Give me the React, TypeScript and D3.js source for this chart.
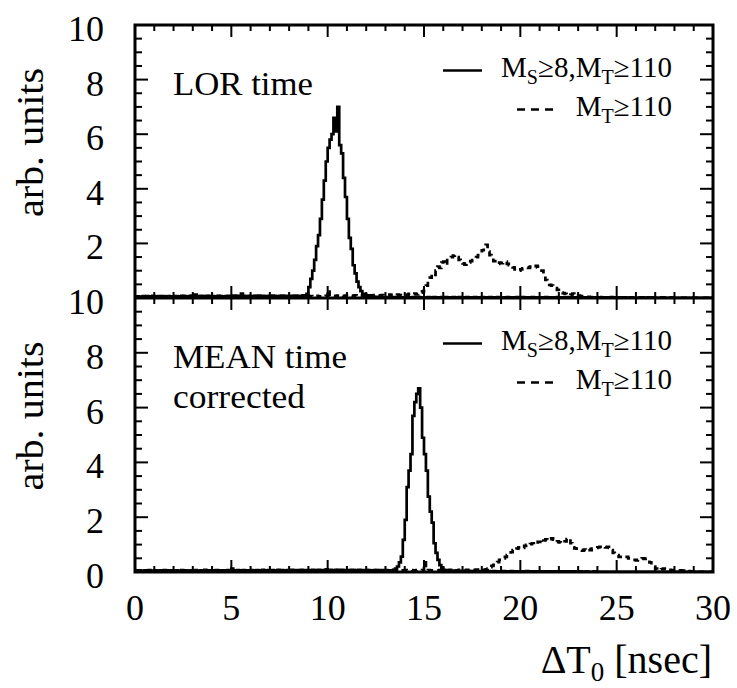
import React from "react";
import * as d3 from "d3";

// ---- data: histograms, 0.1 ns bins from 0 to 30 ns ----
const binWidth = 0.1;
const xDomain = [0, 30];
const yDomain = [0, 10];
const xMajorTicks = [0, 5, 10, 15, 20, 25, 30];
const yMajorTicksTop = [2, 4, 6, 8, 10];
const yMajorTicksBottom = [0, 2, 4, 6, 8, 10];

const lorSolid = [
  0.05,0.06,0.04,0.05,0.07,0.05,0.04,0.06,0.05,0.08,
  0.06,0.05,0.07,0.04,0.05,0.06,0.05,0.07,0.06,0.05,
  0.06,0.07,0.05,0.06,0.08,0.07,0.06,0.05,0.07,0.09,
  0.08,0.12,0.07,0.06,0.08,0.07,0.06,0.08,0.07,0.06,
  0.07,0.05,0.06,0.08,0.07,0.06,0.05,0.07,0.08,0.06,
  0.07,0.09,0.08,0.06,0.07,0.16,0.08,0.07,0.06,0.08,
  0.07,0.06,0.08,0.07,0.09,0.06,0.08,0.07,0.06,0.08,
  0.07,0.09,0.08,0.07,0.06,0.08,0.09,0.07,0.08,0.06,
  0.07,0.08,0.06,0.09,0.08,0.07,0.08,0.1,0.09,0.15,
  0.4,0.7,1.0,1.4,1.9,2.3,2.9,3.6,4.3,5.0,
  5.5,5.8,6.0,6.6,6.1,7.0,5.6,5.3,4.4,3.7,
  2.9,2.2,1.8,1.2,0.9,0.6,0.4,0.25,0.15,0.12,
  0.1,0.08,0.06,0.05,0.04,0.04,0.03,0.04,0.03,0.03,
  0.03,0.02,0.03,0.03,0.02,0.03,0.02,0.03,0.02,0.02,
  0.02,0.03,0.02,0.02,0.03,0.02,0.02,0.03,0.02,0.02,
  0.02,0.02,0.03,0.02,0.02,0.03,0.02,0.02,0.02,0.03,
  0.02,0.03,0.02,0.02,0.02,0.03,0.02,0.02,0.03,0.02,
  0.02,0.02,0.03,0.02,0.02,0.02,0.03,0.02,0.02,0.02,
  0.03,0.02,0.02,0.02,0.03,0.02,0.02,0.02,0.03,0.02,
  0.02,0.02,0.02,0.03,0.02,0.02,0.02,0.02,0.03,0.02,
  0.02,0.03,0.02,0.02,0.02,0.02,0.03,0.02,0.02,0.02,
  0.02,0.02,0.02,0.03,0.02,0.02,0.02,0.02,0.02,0.03,
  0.02,0.02,0.02,0.02,0.02,0.03,0.02,0.02,0.02,0.02,
  0.02,0.02,0.02,0.02,0.02,0.02,0.02,0.02,0.02,0.02,
  0.01,0.02,0.01,0.02,0.01,0.02,0.01,0.02,0.01,0.02,
  0.01,0.02,0.01,0.01,0.02,0.01,0.01,0.02,0.01,0.01,
  0.01,0.01,0.02,0.01,0.01,0.01,0.02,0.01,0.01,0.01,
  0.01,0.01,0.01,0.01,0.01,0.01,0.01,0.01,0.01,0.01,
  0.01,0.01,0.01,0.01,0.01,0.01,0.01,0.01,0.01,0.01,
  0.01,0.01,0.01,0.01,0.01,0.01,0.01,0.01,0.01,0.01,
];

const lorDash = [
  0.04,0.05,0.03,0.06,0.04,0.05,0.07,0.04,0.05,0.06,
  0.05,0.04,0.06,0.05,0.07,0.04,0.05,0.06,0.04,0.05,
  0.06,0.05,0.04,0.06,0.05,0.07,0.05,0.04,0.06,0.05,
  0.05,0.07,0.04,0.06,0.05,0.04,0.06,0.05,0.07,0.05,
  0.04,0.06,0.05,0.07,0.05,0.04,0.06,0.05,0.04,0.06,
  0.05,0.06,0.04,0.07,0.05,0.06,0.05,0.04,0.06,0.05,
  0.06,0.05,0.07,0.04,0.06,0.05,0.04,0.06,0.05,0.07,
  0.05,0.04,0.06,0.05,0.07,0.06,0.04,0.05,0.06,0.05,
  0.06,0.05,0.07,0.06,0.05,0.04,0.06,0.07,0.05,0.06,
  0.05,0.07,0.06,0.05,0.08,0.06,0.05,0.07,0.06,0.08,
  0.3,0.07,0.06,0.08,0.07,0.09,0.06,0.08,0.07,0.09,
  0.08,0.07,0.09,0.08,0.1,0.07,0.08,0.09,0.08,0.1,
  0.09,0.08,0.1,0.09,0.11,0.08,0.1,0.09,0.11,0.1,
  0.1,0.09,0.12,0.1,0.11,0.09,0.12,0.11,0.1,0.13,
  0.11,0.12,0.15,0.12,0.14,0.16,0.13,0.18,0.2,0.24,
  0.29,0.45,0.66,0.75,0.9,0.85,1.0,1.15,1.1,1.3,
  1.33,1.2,1.39,1.45,1.5,1.55,1.57,1.5,1.4,1.3,
  1.27,1.22,1.27,1.3,1.35,1.39,1.42,1.5,1.57,1.65,
  1.75,1.88,1.95,1.7,1.57,1.45,1.35,1.27,1.25,1.3,
  1.28,1.33,1.33,1.25,1.2,1.15,1.12,1.05,1.03,1.0,
  1.05,1.09,1.1,1.12,1.1,1.15,1.15,1.12,1.18,1.15,
  1.1,1.0,0.8,0.66,0.55,0.48,0.45,0.4,0.36,0.3,
  0.25,0.2,0.18,0.15,0.12,0.1,0.12,0.16,0.1,0.08,
  0.09,0.07,0.06,0.05,0.04,0.04,0.03,0.03,0.02,0.03,
  0.02,0.02,0.03,0.02,0.02,0.02,0.02,0.03,0.02,0.02,
  0.02,0.02,0.02,0.02,0.03,0.02,0.02,0.02,0.02,0.02,
  0.02,0.02,0.02,0.02,0.02,0.02,0.02,0.02,0.02,0.02,
  0.01,0.02,0.01,0.02,0.01,0.02,0.01,0.01,0.02,0.01,
  0.01,0.01,0.01,0.01,0.01,0.01,0.01,0.01,0.01,0.01,
  0.01,0.01,0.01,0.01,0.01,0.01,0.01,0.01,0.01,0.01,
];

const meanSolid = [
  0.05,0.04,0.06,0.05,0.04,0.06,0.05,0.07,0.04,0.05,
  0.06,0.05,0.04,0.06,0.05,0.07,0.05,0.04,0.06,0.05,
  0.05,0.06,0.04,0.05,0.07,0.05,0.06,0.04,0.05,0.06,
  0.05,0.07,0.05,0.04,0.06,0.05,0.08,0.05,0.06,0.05,
  0.06,0.05,0.07,0.05,0.06,0.04,0.06,0.05,0.07,0.06,
  0.12,0.06,0.05,0.07,0.06,0.05,0.07,0.06,0.05,0.06,
  0.07,0.05,0.06,0.07,0.05,0.06,0.08,0.06,0.05,0.07,
  0.06,0.07,0.05,0.06,0.08,0.06,0.07,0.05,0.06,0.07,
  0.06,0.08,0.07,0.06,0.07,0.05,0.08,0.07,0.06,0.07,
  0.07,0.06,0.08,0.07,0.06,0.08,0.07,0.06,0.07,0.1,
  0.07,0.08,0.06,0.07,0.08,0.07,0.06,0.08,0.07,0.06,
  0.07,0.06,0.08,0.07,0.06,0.07,0.08,0.06,0.07,0.06,
  0.06,0.07,0.05,0.06,0.07,0.06,0.05,0.07,0.06,0.05,
  0.05,0.05,0.06,0.06,0.08,0.12,0.2,0.35,0.56,1.17,
  1.9,3.1,3.7,4.3,5.7,6.2,6.5,6.7,6.0,4.9,
  4.3,3.7,2.75,2.2,1.8,1.05,0.7,0.44,0.25,0.15,
  0.08,0.06,0.05,0.06,0.05,0.04,0.05,0.04,0.04,0.03,
  0.04,0.03,0.03,0.04,0.03,0.03,0.02,0.03,0.03,0.02,
  0.03,0.02,0.02,0.03,0.02,0.02,0.03,0.02,0.02,0.02,
  0.02,0.03,0.02,0.02,0.02,0.03,0.02,0.02,0.02,0.02,
  0.02,0.02,0.02,0.03,0.02,0.02,0.02,0.02,0.02,0.02,
  0.02,0.02,0.02,0.02,0.02,0.02,0.02,0.02,0.02,0.02,
  0.02,0.01,0.02,0.02,0.01,0.02,0.02,0.01,0.02,0.01,
  0.01,0.02,0.01,0.01,0.02,0.01,0.01,0.01,0.02,0.01,
  0.01,0.01,0.01,0.01,0.01,0.01,0.01,0.01,0.01,0.01,
  0.01,0.01,0.01,0.01,0.01,0.01,0.01,0.01,0.01,0.01,
  0.01,0.01,0.01,0.01,0.01,0.01,0.01,0.01,0.01,0.01,
  0.01,0.01,0.01,0.01,0.01,0.01,0.01,0.01,0.01,0.01,
  0.01,0.01,0.01,0.01,0.01,0.01,0.01,0.01,0.01,0.01,
  0.01,0.01,0.01,0.01,0.01,0.01,0.01,0.01,0.01,0.01,
];

const meanDash = [
  0.04,0.05,0.06,0.04,0.05,0.03,0.06,0.05,0.04,0.06,
  0.05,0.04,0.05,0.06,0.04,0.05,0.06,0.04,0.05,0.05,
  0.06,0.04,0.05,0.06,0.05,0.04,0.06,0.05,0.04,0.05,
  0.05,0.06,0.04,0.05,0.06,0.04,0.05,0.06,0.05,0.04,
  0.05,0.04,0.06,0.05,0.05,0.06,0.04,0.05,0.06,0.05,
  0.06,0.05,0.04,0.06,0.05,0.05,0.04,0.06,0.05,0.06,
  0.05,0.06,0.05,0.04,0.06,0.05,0.06,0.05,0.04,0.06,
  0.06,0.05,0.04,0.06,0.05,0.06,0.05,0.06,0.05,0.05,
  0.05,0.06,0.05,0.06,0.04,0.06,0.05,0.06,0.06,0.05,
  0.06,0.05,0.06,0.05,0.06,0.05,0.06,0.06,0.05,0.06,
  0.06,0.05,0.06,0.06,0.05,0.07,0.05,0.06,0.06,0.05,
  0.06,0.06,0.05,0.07,0.06,0.05,0.06,0.07,0.05,0.06,
  0.06,0.07,0.05,0.06,0.06,0.07,0.06,0.05,0.07,0.06,
  0.06,0.07,0.06,0.05,0.07,0.06,0.06,0.07,0.05,0.06,
  0.07,0.06,0.06,0.07,0.05,0.06,0.07,0.06,0.06,0.07,
  0.35,0.06,0.07,0.06,0.05,0.07,0.06,0.06,0.07,0.05,
  0.06,0.07,0.05,0.08,0.06,0.07,0.05,0.06,0.08,0.06,
  0.07,0.06,0.08,0.07,0.06,0.08,0.07,0.09,0.07,0.07,
  0.07,0.08,0.1,0.12,0.18,0.22,0.26,0.3,0.36,0.44,
  0.46,0.5,0.55,0.62,0.66,0.72,0.8,0.78,0.85,0.9,
  0.92,0.88,0.95,0.99,0.97,1.02,1.05,1.0,1.08,1.1,
  1.1,1.05,1.15,1.19,1.15,1.2,1.23,1.18,1.1,1.12,
  1.08,1.05,1.05,1.12,1.2,1.23,1.05,0.9,0.86,0.85,
  0.8,0.8,0.78,0.82,0.8,0.84,0.8,0.85,0.86,0.88,
  0.9,0.92,0.92,0.95,0.9,0.92,0.88,0.8,0.7,0.68,
  0.62,0.55,0.55,0.52,0.55,0.55,0.5,0.48,0.44,0.44,
  0.42,0.44,0.46,0.5,0.48,0.5,0.45,0.35,0.25,0.2,
  0.12,0.08,0.07,0.1,0.12,0.1,0.12,0.08,0.06,0.07,
  0.07,0.06,0.05,0.06,0.05,0.04,0.05,0.03,0.02,0.02,
  0.01,0.01,0.01,0.01,0.01,0.01,0.01,0.01,0.01,0.01,
];

const panelLabels = [["LOR time"], ["MEAN time", "corrected"]];
const panelLabelWidths = [[140], [174, 132]];

// ---- layout ----
const W = 737;
const H = 688;
const left = 135;
const right = 713;
const topY = 25;
const midY = 298;
const botY = 572;
const FONT = '"Liberation Serif", "Times New Roman", serif';

const x = d3.scaleLinear().domain(xDomain).range([left, right]);
const yTop = d3.scaleLinear().domain(yDomain).range([midY, topY]);
const yBot = d3.scaleLinear().domain(yDomain).range([botY, midY]);

function histPath(vals: number[], y: d3.ScaleLinear<number, number>) {
  const pts: [number, number][] = vals.map((v, i) => [i * binWidth, v]);
  pts.push([vals.length * binWidth, vals[vals.length - 1]]);
  const line = d3
    .line<[number, number]>()
    .x((d) => x(d[0]))
    .y((d) => y(Math.min(d[1], yDomain[1])))
    .curve(d3.curveStepAfter);
  return line(pts) || "";
}

const xMinor = d3.range(0, 31, 1);
const yMinor = d3.range(0, 10.01, 0.5);

function Frame({ y }: { y: d3.ScaleLinear<number, number> }) {
  const [y0, y1] = y.range();
  const ticks: any[] = [];
  xMinor.forEach((v) => {
    const len = v % 5 === 0 ? 12 : 6;
    const px = x(v);
    ticks.push(<line key={"xb" + v} x1={px} x2={px} y1={y0} y2={y0 - len} />);
    ticks.push(<line key={"xt" + v} x1={px} x2={px} y1={y1} y2={y1 + len} />);
  });
  yMinor.forEach((v) => {
    const len = Math.abs(v % 2) < 1e-6 ? 13 : 7;
    const py = y(v);
    ticks.push(<line key={"yl" + v} x1={left} x2={left + len} y1={py} y2={py} />);
    ticks.push(<line key={"yr" + v} x1={right} x2={right - len} y1={py} y2={py} />);
  });
  return (
    <g stroke="#000" strokeWidth={2}>
      {ticks}
    </g>
  );
}

function Legend({ yOff }: { yOff: number }) {
  return (
    <g fill="#000">
      <line x1={443} x2={482} y1={yOff + 70.5} y2={yOff + 70.5} stroke="#000" strokeWidth={2.7} />
      <text x={672} y={yOff + 77} fontSize={29} textAnchor="end">
        M<tspan dy={7} fontSize={20}>S</tspan>
        <tspan dy={-7}>≥8,M</tspan>
        <tspan dy={7} fontSize={20}>T</tspan>
        <tspan dy={-7}>≥110</tspan>
      </text>
      <line
        x1={517}
        x2={555}
        y1={yOff + 109.5}
        y2={yOff + 109.5}
        stroke="#000"
        strokeWidth={2.7}
        strokeDasharray="8 6"
      />
      <text x={672} y={yOff + 116} fontSize={29} textAnchor="end">
        M<tspan dy={7} fontSize={20}>T</tspan>
        <tspan dy={-7}>≥110</tspan>
      </text>
    </g>
  );
}

export default function App() {
  const panels = [
    { y: yTop, solid: lorSolid, dash: lorDash, labels: panelLabels[0], widths: panelLabelWidths[0], off: 0, ticks: yMajorTicksTop },
    { y: yBot, solid: meanSolid, dash: meanDash, labels: panelLabels[1], widths: panelLabelWidths[1], off: midY - topY, ticks: yMajorTicksBottom },
  ];
  return (
    <svg
      width={W}
      height={H}
      style={{ position: "absolute", left: 0, top: 0, fontFamily: FONT }}
    >
      <rect width={W} height={H} fill="#fff" />
      {panels.map((p, pi) => (
        <g key={pi}>
          <path d={histPath(p.dash, p.y)} fill="none" stroke="#000" strokeWidth={2.7} strokeDasharray="6 5" />
          <path d={histPath(p.solid, p.y)} fill="none" stroke="#000" strokeWidth={2.7} />
          <Frame y={p.y} />
          {p.ticks.map((t) => (
            <text key={t} x={104} y={p.y(t) + 16} textAnchor="end" fontSize={36}>
              {t}
            </text>
          ))}
          <text
            transform={`translate(43, ${(p.y(10) + p.y(0)) / 2 - 19}) rotate(-90)`}
            textAnchor="middle"
            fontSize={37}
            textLength={149}
            lengthAdjust="spacingAndGlyphs"
          >
            arb. units
          </text>
          {p.labels.map((l, li) => (
            <text
              key={l}
              x={173}
              y={p.y(10) + 70 + li * 40}
              fontSize={34}
              textLength={p.widths[li]}
              lengthAdjust="spacingAndGlyphs"
            >
              {l}
            </text>
          ))}
          <Legend yOff={p.off} />
        </g>
      ))}
      <rect x={left} y={topY} width={right - left} height={botY - topY} fill="none" stroke="#000" strokeWidth={3} />
      <line x1={left} x2={right} y1={midY} y2={midY} stroke="#000" strokeWidth={3} />
      {xMajorTicks.map((t) => (
        <text key={t} x={x(t)} y={620} textAnchor="middle" fontSize={36}>
          {t}
        </text>
      ))}
      <text x={712} y={673} textAnchor="end" fontSize={40}>
        ΔT<tspan dy={8} fontSize={27}>0</tspan>
        <tspan dy={-8}> [nsec]</tspan>
      </text>
    </svg>
  );
}
